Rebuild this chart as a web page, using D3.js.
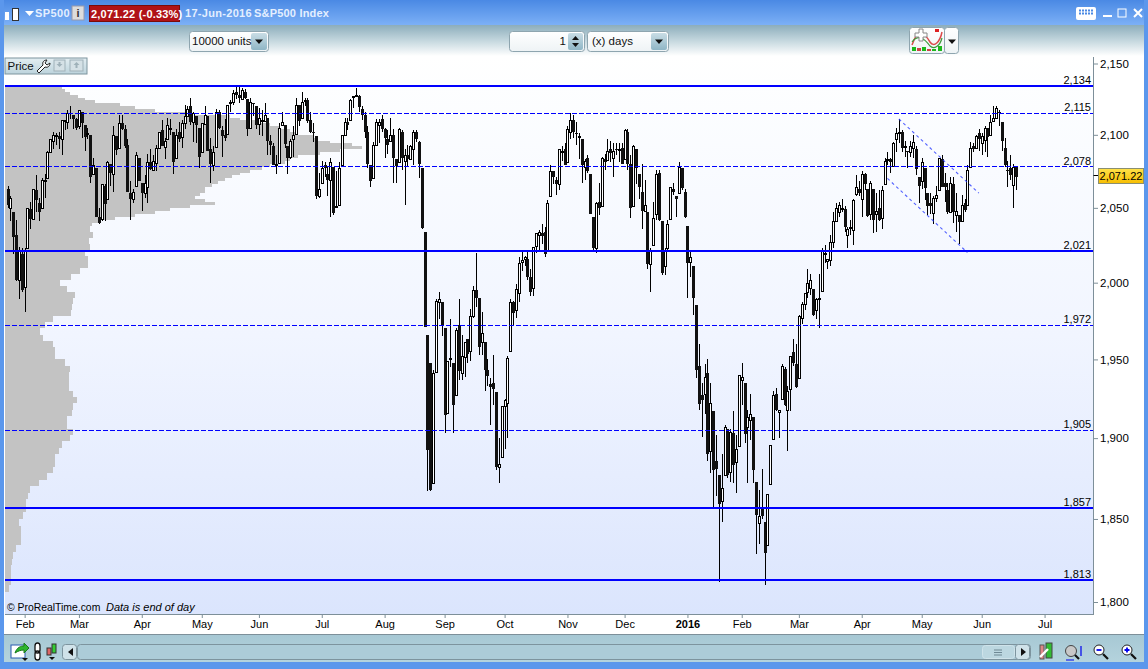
<!DOCTYPE html>
<html><head><meta charset="utf-8">
<script src="https://cdn.jsdelivr.net/npm/d3@7/dist/d3.min.js"></script>
<style>html,body{margin:0;padding:0;background:#fff;overflow:hidden}svg{display:block}text{font-family:"Liberation Sans",Arial,sans-serif}</style>
</head><body><svg id="c" width="1148" height="669"></svg>
<script>
// ---- daily candles, Jan-23-2015 .. Jun-17-2016, one line per month
const opens=[
2063,2050,2047,2032,2002,2019,
1997,2023,2049,2043,2062,2053,2050,2068,2070,2088,2096,2100,2099,2097,2110,2109,2115,2114,2111,
2106,2116,2107,2100,2100,2073,2077,2044,2042,2065,2056,2080,2073,2099,2091,2108,2104,2093,2060,2056,2065,2084,
2067,2060,2064,2081,2076,2081,2091,2103,2092,2097,2105,2102,2084,2102,2098,2108,2113,2120,2109,2113,2105,
2088,2108,2113,2090,2079,2092,2116,2103,2100,2101,2122,2123,2130,2128,2125,2130,2125,2105,2122,2120,
2108,2110,2110,2112,2096,2092,2079,2081,2107,2107,2092,2085,2097,2101,2121,2112,2123,2124,2110,2102,2099,2058,
2067,2079,2073,2069,2078,2050,2052,2079,2100,2109,2110,2126,2127,2127,2118,2114,2102,2079,2070,2093,2107,2111,
2104,2097,2096,2100,2083,2081,2102,2082,2086,2083,2090,2102,2095,2077,2034,1966,1948,1872,1942,1987,1987,
1970,1916,1951,1948,1927,1972,1941,1951,1963,1955,1978,1995,1990,1961,1961,1943,1934,1935,1929,1882,1888,
1920,1922,1955,1987,1982,1993,2014,2016,2016,2004,1997,2024,2032,2033,2034,2021,2058,2075,2069,2066,2089,2090,
2081,2102,2110,2101,2098,2097,2078,2084,2073,2044,2023,2054,2051,2083,2083,2090,2084,2090,2089,2091,
2083,2102,2080,2051,2090,2073,2061,2048,2047,2013,2025,2046,2074,2041,2011,2023,2042,2063,2058,2060,2077,2061,
2038,2014,2011,1985,1946,1927,1928,1941,1892,1917,1886,1877,1861,1877,1906,1879,1903,1885,1895,
1937,1935,1907,1911,1913,1873,1848,1857,1848,1834,1872,1899,1928,1917,1925,1944,1918,1931,1955,1947,
1938,1977,1986,1994,1997,1996,1982,1990,1995,2020,2015,2015,2027,2041,2047,2049,2049,2032,2037,2035,2059,2063,
2056,2073,2063,2046,2063,2046,2050,2043,2066,2083,2083,2078,2097,2101,2102,2091,2089,2088,2091,2090,2071,
2068,2077,2060,2053,2047,2057,2062,2083,2067,2062,2047,2066,2045,2045,2041,2053,2052,2078,2092,2091,2101,
2094,2097,2105,2100,2110,2112,2116,2109,2091,2076,2077,2066,2078];
const highs=[
2065,2058,2047,2042,2024,2023,
2023,2050,2054,2063,2072,2057,2070,2073,2089,2097,2102,2101,2102,2110,2110,2117,2120,2114,2112,
2117,2116,2107,2105,2100,2084,2077,2050,2066,2066,2082,2080,2106,2099,2114,2114,2107,2097,2068,2063,2088,2084,
2067,2072,2087,2090,2086,2093,2102,2110,2098,2112,2111,2102,2104,2109,2110,2121,2120,2126,2116,2113,2105,
2108,2120,2113,2098,2092,2118,2117,2106,2111,2121,2124,2131,2134,2134,2133,2132,2125,2126,2122,2120,
2119,2117,2122,2112,2100,2094,2086,2108,2116,2107,2092,2097,2106,2126,2121,2130,2126,2126,2116,2108,2099,2074,
2082,2081,2078,2084,2078,2075,2081,2100,2112,2112,2125,2127,2133,2128,2120,2116,2106,2079,2095,2111,2111,2114,
2105,2103,2112,2104,2083,2105,2103,2090,2093,2093,2103,2103,2096,2077,2034,1966,1948,1943,1989,1994,1986,
1970,1948,1976,1948,1970,1989,1966,1961,1963,1983,1998,2020,1990,1981,1961,1950,1938,1953,1929,1900,1920,
1925,1952,1989,1988,1999,2017,2021,2018,2022,2009,2024,2033,2035,2039,2037,2055,2079,2075,2071,2090,2092,2094,
2106,2115,2114,2109,2101,2097,2083,2086,2073,2044,2054,2067,2085,2087,2097,2096,2094,2094,2094,2094,
2104,2104,2086,2093,2090,2073,2080,2069,2047,2023,2054,2076,2076,2041,2023,2042,2064,2067,2058,2081,2077,2063,
2038,2022,2011,1985,1960,1935,1947,1950,1935,1917,1902,1877,1890,1908,1906,1906,1917,1902,1940,
1948,1935,1918,1928,1913,1873,1868,1881,1848,1865,1896,1930,1932,1918,1947,1945,1933,1952,1963,1960,
1979,1987,1993,2009,2006,1996,1990,2006,2023,2025,2016,2032,2047,2053,2054,2056,2051,2037,2042,2056,2072,2068,
2075,2074,2063,2068,2063,2060,2062,2065,2084,2088,2084,2095,2105,2111,2103,2096,2089,2096,2100,2092,2071,
2084,2077,2060,2060,2058,2065,2084,2086,2074,2067,2071,2071,2060,2045,2059,2056,2079,2095,2094,2100,2104,
2101,2106,2105,2114,2120,2120,2117,2109,2098,2082,2086,2080,2078];
const lows=[
2050,2041,2019,2001,1989,1994,
1981,2023,2036,2043,2047,2041,2050,2057,2070,2088,2090,2093,2090,2086,2103,2104,2111,2104,2103,
2104,2098,2089,2097,2067,2072,2044,2039,2041,2041,2056,2065,2061,2086,2091,2103,2091,2061,2042,2053,2065,2068,
2048,2057,2053,2076,2076,2075,2091,2092,2083,2097,2100,2073,2084,2095,2091,2104,2113,2107,2095,2094,2077,
2088,2108,2089,2067,2075,2092,2104,2085,2096,2101,2116,2121,2125,2122,2125,2125,2099,2105,2113,2104,
2100,2099,2110,2086,2086,2079,2073,2081,2107,2091,2073,2083,2085,2101,2106,2112,2120,2108,2101,2095,2056,2057,
2067,2071,2058,2044,2045,2050,2052,2079,2100,2103,2110,2119,2127,2116,2110,2098,2077,2064,2070,2094,2094,2102,
2084,2087,2096,2067,2067,2081,2076,2052,2078,2083,2079,2095,2070,2036,1971,1867,1867,1872,1942,1976,1965,
1903,1916,1945,1903,1927,1937,1937,1939,1948,1949,1977,1984,1953,1953,1930,1933,1908,1921,1880,1872,1888,
1893,1900,1955,1972,1977,1987,2008,2011,2002,1991,1991,2020,2022,2026,2017,2021,2058,2066,2059,2062,2082,2079,
2081,2097,2098,2093,2083,2067,2069,2074,2046,2022,2020,2045,2051,2076,2083,2081,2071,2086,2081,2080,
2083,2076,2043,2051,2066,2056,2036,2048,2009,1994,2025,2042,2041,2005,2005,2021,2042,2059,2044,2060,2062,2043,
1990,2004,1979,1938,1918,1901,1915,1886,1878,1857,1864,1812,1848,1877,1875,1873,1872,1866,1895,
1921,1897,1872,1899,1872,1829,1835,1850,1810,1834,1872,1899,1917,1900,1925,1920,1892,1917,1946,1932,
1938,1973,1982,1990,1992,1978,1976,1970,1995,2013,2009,2011,2023,2041,2044,2047,2034,2023,2032,2025,2058,2058,
2044,2062,2044,2042,2033,2034,2041,2036,2066,2079,2074,2078,2088,2094,2088,2085,2077,2085,2084,2072,2053,
2063,2055,2045,2046,2039,2054,2062,2064,2054,2046,2047,2040,2034,2026,2041,2047,2052,2078,2088,2090,2089,
2086,2088,2085,2100,2110,2112,2106,2089,2078,2064,2069,2050,2062];
const closes=[
2052,2057,2030,2002,2021,1995,
2021,2050,2042,2063,2055,2047,2069,2069,2088,2097,2100,2100,2097,2110,2110,2115,2114,2111,2105,
2117,2108,2099,2101,2071,2079,2044,2040,2066,2053,2081,2074,2100,2089,2108,2104,2092,2061,2056,2061,2086,2068,
2060,2067,2081,2076,2082,2091,2102,2092,2096,2107,2105,2081,2100,2097,2108,2113,2118,2109,2115,2107,2085,
2108,2114,2089,2080,2088,2116,2105,2099,2098,2121,2123,2129,2128,2126,2131,2126,2104,2123,2121,2107,
2112,2110,2114,2096,2093,2079,2080,2105,2109,2094,2084,2096,2100,2121,2110,2123,2124,2109,2102,2101,2058,2063,
2077,2077,2069,2081,2047,2051,2077,2100,2109,2107,2124,2127,2128,2119,2114,2102,2080,2068,2093,2109,2109,2104,
2098,2093,2100,2084,2078,2104,2084,2086,2083,2092,2102,2097,2080,2036,1971,1893,1868,1941,1988,1989,1972,
1914,1949,1951,1921,1969,1942,1952,1961,1953,1978,1995,1990,1958,1967,1943,1939,1932,1931,1882,1884,1920,
1924,1951,1987,1980,1996,2013,2015,2017,2004,1994,2024,2033,2034,2031,2019,2053,2075,2071,2066,2090,2089,2079,
2104,2110,2102,2100,2099,2079,2082,2075,2046,2023,2053,2050,2084,2081,2089,2087,2089,2089,2090,2080,
2103,2080,2050,2092,2077,2064,2048,2052,2012,2022,2043,2073,2042,2006,2021,2039,2064,2061,2056,2078,2063,2044,
2013,2017,1990,1943,1922,1924,1939,1890,1922,1880,1881,1859,1869,1907,1877,1904,1883,1893,1940,
1939,1903,1913,1915,1880,1853,1852,1852,1829,1865,1896,1927,1918,1918,1946,1921,1930,1952,1948,1932,
1978,1986,1993,2000,2002,1979,1989,1990,2022,2020,2016,2027,2041,2050,2052,2050,2037,2036,2037,2055,2064,2060,
2073,2066,2045,2067,2042,2048,2042,2062,2082,2083,2081,2094,2101,2102,2091,2092,2088,2092,2095,2076,2065,
2081,2063,2051,2051,2057,2059,2084,2064,2064,2047,2067,2047,2048,2040,2052,2048,2076,2091,2090,2099,2097,
2099,2105,2099,2109,2112,2119,2115,2096,2079,2075,2072,2078,2071];

// ---- volume-by-price profile: bucket top price and traded volume
const profilePrices=[2134,2132,2130,2128,2126,2124,2122,2120,2118,2116,2114,2112,2110,2108,2106,2104,2102,2100,2098,2096,2094,2092,2090,2088,2086,2084,2082,2080,2078,2076,2074,2072,2070,2068,2066,2064,2062,2060,2058,2056,2054,2052,2050,2048,2046,2044,2042,2040,2038,2034,2030,2026,2022,2018,2014,2010,2006,2002,1998,1994,1990,1986,1982,1978,1974,1970,1966,1962,1958,1954,1950,1946,1942,1938,1934,1930,1926,1922,1918,1914,1910,1906,1902,1898,1894,1890,1886,1882,1878,1874,1870,1866,1862,1858,1854,1850,1846,1842,1838,1834,1830,1826,1822,1818,1814,1810,1806];
const profileVolumes=[57,60,65,73,80,90,115,130,150,185,225,235,253,265,275,285,293,308,313,325,347,357,335,315,293,285,280,265,257,245,235,227,220,213,207,200,200,195,190,200,210,185,165,150,130,110,95,87,85,88,84,85,80,83,83,75,66,55,62,70,68,67,66,48,40,35,38,48,50,50,60,65,64,64,64,68,72,68,67,62,62,68,65,57,54,50,50,48,42,34,25,23,21,21,18,14,16,16,16,11,8,7,6,6,6,4,0];

// ---- horizontal levels and trend channel
const solidLevels=[2134,2021,1857,1813];
const dashedLevels=[2115,2078,1972,1905];
const channelStart=[312,308], channelStartPrice=[2111,2070];
const channelEnd=[340,336],  channelEndPrice=[2060,2020];

// ---- axes
const priceTicks=[2150,2100,2050,2000,1950,1900,1850,1800];
const monthLabels=["Feb","Mar","Apr","May","Jun","Jul","Aug","Sep","Oct","Nov","Dec","2016","Feb","Mar","Apr","May","Jun","Jul"];
const monthIndex=[6,25,47,68,88,110,132,153,174,196,216,238,257,277,299,320,341,363];
const lastPrice=2071.22;

const svg=d3.select("#c");
const defs=svg.append("defs");
function grad(id,stops){const g=defs.append("linearGradient").attr("id",id).attr("x1",0).attr("y1",0).attr("x2",0).attr("y2",1);
 stops.forEach(s=>g.append("stop").attr("offset",s[0]).attr("stop-color",s[1]));}
grad("plotBg",[[0,"#ffffff"],[.05,"#fdfeff"],[.5,"#f1f5ff"],[1,"#dbe5fd"]]);
grad("titleBg",[[0,"#4a89e4"],[1,"#7cb0f6"]]);
grad("toolBg",[[0,"#8cadbb"],[.5,"#c4d7de"],[1,"#ffffff"]]);
grad("barBg",[[0,"#a7c8d4"],[1,"#b4d3dd"]]);
grad("btnBg",[[0,"#ffffff"],[1,"#eef3f5"]]);
grad("arrowBg",[[0,"#c9dde5"],[1,"#8fb6c6"]]);
grad("goldBg",[[0,"#ffe24a"],[1,"#f7bd00"]]);
grad("tabBg",[[0,"#e4eef2"],[1,"#bcd3dc"]]);

const R=(x,y,w,h,fill,stroke,rx)=>svg.append("rect").attr("x",x).attr("y",y).attr("width",w).attr("height",h).attr("fill",fill).attr("stroke",stroke||"none").attr("rx",rx||0);
const T=(x,y,s,o={})=>svg.append("text").attr("x",x).attr("y",y).text(s).attr("font-size",o.size||11).attr("fill",o.fill||"#000")
  .attr("font-weight",o.weight||"normal").attr("font-style",o.style||"normal").attr("text-anchor",o.anchor||"start").attr("letter-spacing",o.ls||0);
const P=(d,fill,stroke,sw)=>svg.append("path").attr("d",d).attr("fill",fill||"none").attr("stroke",stroke||"none").attr("stroke-width",sw||1);

// window chrome
R(0,0,1148,669,"#ffffff");
R(0,0,1148,25,"url(#titleBg)");
R(0,25,1148,31,"url(#toolBg)");
R(0,0,4,669,"#5b97ec");
R(1144,0,4,669,"#5b97ec");
R(4,635,1140,27,"url(#barBg)");
R(0,662,1148,7,"#5b97ec");

// plot scales
const pLeft=5,pRight=1093,pTop=57,pBottom=614;
const y=d3.scaleLog().domain([1800,2150]).range([602,63.5]);
const x=d3.scaleLinear().domain([0,353]).range([7.5,1016]);
const vol=d3.scaleLinear().domain([0,357]).range([pLeft,pLeft+357]);

R(pLeft,pTop,pRight-pLeft,pBottom-pTop,"url(#plotBg)");

// volume profile
svg.append("g").attr("shape-rendering","crispEdges").selectAll("rect").data(profilePrices.slice(0,-1)).join("rect")
 .attr("x",pLeft).attr("width",(d,i)=>vol(profileVolumes[i])-pLeft)
 .attr("y",d=>Math.round(y(d))).attr("height",(d,i)=>Math.round(y(profilePrices[i+1]))-Math.round(y(d)))
 .attr("fill","#c3c3c3");

// candles
const idx=d3.range(closes.length);
const cx=i=>Math.round(x(i))+.5;
const gc=svg.append("g").attr("shape-rendering","crispEdges");
gc.selectAll("line").data(idx).join("line").attr("x1",cx).attr("x2",cx)
 .attr("y1",i=>y(highs[i])).attr("y2",i=>y(lows[i])).attr("stroke","#000").attr("stroke-width",1);
gc.selectAll("rect").data(idx).join("rect")
 .attr("x",i=>closes[i]>=opens[i]?cx(i)-1:cx(i)-1.5)
 .attr("width",i=>closes[i]>=opens[i]?2:3)
 .attr("y",i=>Math.round(y(Math.max(opens[i],closes[i]))))
 .attr("height",i=>Math.max(1,Math.round(Math.abs(y(opens[i])-y(closes[i])))))
 .attr("fill",i=>closes[i]>=opens[i]?"#fff":"#111")
 .attr("stroke",i=>closes[i]>=opens[i]?"#000":"none").attr("stroke-width",1);

// levels
const gl=svg.append("g").attr("shape-rendering","crispEdges");
gl.selectAll(".s").data(solidLevels).join("line").attr("class","s").attr("x1",pLeft).attr("x2",pRight)
 .attr("y1",d=>Math.round(y(d))).attr("y2",d=>Math.round(y(d))).attr("stroke","#0000ff").attr("stroke-width",2);
gl.selectAll(".d").data(dashedLevels).join("line").attr("class","d").attr("x1",pLeft).attr("x2",pRight)
 .attr("y1",d=>Math.floor(y(d))+.5).attr("y2",d=>Math.floor(y(d))+.5).attr("stroke","#0000ff").attr("stroke-width",1).attr("stroke-dasharray","5,2");
svg.append("g").selectAll("text").data(solidLevels.concat(dashedLevels)).join("text")
 .attr("x",1091).attr("y",d=>Math.round(y(d))-2).attr("text-anchor","end").attr("font-size",11).attr("fill","#000").text(d3.format(","));

// trend channel
svg.append("g").selectAll("line").data([0,1]).join("line")
 .attr("x1",i=>x(channelStart[i])).attr("y1",i=>y(channelStartPrice[i]))
 .attr("x2",i=>x(channelEnd[i])).attr("y2",i=>y(channelEndPrice[i]))
 .attr("stroke","#2a3cff").attr("stroke-width",1.1).attr("stroke-dasharray","3,3").attr("opacity",.8);

// footer text in plot
T(7,611,"© ProRealTime.com",{size:10.4});
T(106,611,"Data is end of day",{size:11,style:"italic"});

// axes
const gy=svg.append("g").attr("transform",`translate(${pRight},0)`)
 .call(d3.axisRight(y).tickValues(priceTicks).tickFormat(d3.format(",")).tickSize(5).tickPadding(2));
gy.select(".domain").attr("d",`M0.5,${pTop}V${pBottom}`).attr("stroke","#7d8f99").attr("stroke-width",1);
gy.selectAll("line").attr("stroke","#7d8f99");
gy.selectAll("text").attr("font-size",11.5).attr("font-family","Liberation Sans").attr("fill","#000");
const gx=svg.append("g").attr("transform",`translate(0,${pBottom})`)
 .call(d3.axisBottom(x).tickValues(monthIndex).tickFormat((d,i)=>monthLabels[i]).tickSize(4).tickPadding(2));
gx.select(".domain").attr("d",`M${pLeft},0.5H${pRight+1}`).attr("stroke","#7d8f99");
gx.selectAll("line").attr("stroke","#7d8f99");
gx.selectAll("text").attr("font-size",11).attr("font-family","Liberation Sans").attr("fill","#000")
 .attr("font-weight",(d,i)=>monthLabels[i]==="2016"?"bold":"normal");
R(4,634,1140,1,"#7d8f99");

// last price marker
R(1093.5,175,5,1,"#000");
R(1098.5,168.5,45,15,"url(#goldBg)","#8a8f70");
T(1121,180,d3.format(",.2f")(lastPrice),{size:11,anchor:"middle"});

// title bar
R(5,12,4,8,"#fff"); R(12.5,8.5,6,12,"#fff","#333");
P("M25 11h9l-4.5 5z","#fff");
T(35,17,"SP500",{size:11,weight:"bold",fill:"#e4efff",ls:.4});
R(72,6,12,14,"#ddd","#99a");T(78,17,"i",{size:11,weight:"bold",anchor:"middle",fill:"#333"});
R(89.5,5.5,90,16,"#b01217","#7a0b0b");
T(91,17.5,"2,071.22 (-0.33%)",{size:11,weight:"bold",fill:"#fff",ls:.2});
T(185,17,"17-Jun-2016",{size:11,weight:"bold",fill:"#e4efff",ls:.3});
T(254,17,"S&P500 Index",{size:11,weight:"bold",fill:"#e4efff",ls:.2});
// window buttons
R(1076,7,20,13,"#fff",null,2);
for(let i=0;i<2;i++)for(let j=0;j<5;j++)R(1079+j*3,9.5+i*3,2,2,"#4a89e4");
R(1103,15,9,2,"#fff");
R(1118,9,8,8,"none","#fff");
P("M1134 9l8 8M1142 9l-8 8",null,"#fff",2);

// toolbar controls
function dropdown(x0,w,label,anchorX,arrow){
 R(x0+.5,31.5,w,20,"url(#btnBg)","#8ea5af",3);
 if(arrow){R(x0+w-17,33,16,17,"url(#arrowBg)",null,2);P(`M${x0+w-13} 39.5h8l-4 4.5z`,"#111");}
 T(anchorX,45,label,{size:11.5,fill:"#111"});
}
dropdown(189,79,"10000 units",192,true);
R(509.5,31.5,75,20,"url(#btnBg)","#8ea5af",3);
T(566,45,"1",{size:11.5,anchor:"end",fill:"#111"});
R(568,33,15,17,"url(#arrowBg)",null,2);P("M572 40l3.5-4 3.5 4zM572 43l3.5 4 3.5-4z","#111");
dropdown(587,81,"(x) days",592,true);
// indicator button
R(909.5,27.5,35,26,"url(#btnBg)","#8ea5af",3);
R(944.5,27.5,14,26,"url(#btnBg)","#8ea5af",3);
P("M948 39.5h8l-4 4.5z","#111");
P("M912 45C918 28 924 32 930 42 934 48 940 42 942 32","none","#dc4a4a",1.5);
P("M912 42C918 34 924 38 930 46 934 50 940 46 942 38","none","#3a9a3a",1.2);
P("M915 33h4v-4h4v4h4v4h-4v4h-4v-4h-4z","#fff","#888");
P("M934 36l3-4h-2v-3h4v3h-2z","#dd2222");
R(912,47,4,4,"#1cb81c");R(917,48,4,3,"#cc4444");R(922,47,4,4,"#1cb81c");R(927,49,4,2,"#cc4444");R(932,49,4,2,"#1cb81c");R(938,46,4,5,"#1cb81c");

// Price tab
R(5,58,82,16,"url(#tabBg)","#7d949e");
T(7.5,70,"Price",{size:11.5,fill:"#111"});
P("M37 71l6-6c-1-3 1-5 4-5l-2 3 2 2 3-2c0 3-2 5-5 4l-6 6z","#fff","#222");
R(54,60,11,11,"#d5e1e6","#9fb1b9");P("M59.5 67l-3-3h2v-2h2v2h2z","#9fb1b9");
R(70,60,13,11,"#d5e1e6","#9fb1b9");P("M76.5 62l3 3h-2v3h-2v-3h-2z","#9fb1b9");

// bottom toolbar
R(11,645,14,13,"#fff","#2a5db0");P("M15 653c2-6 6-7 9-7v-3l5 5-5 5v-3c-3 0-6 1-9 3z","#2db52d","#1a7a1a");
P("M35 646a2.5 3 0 0 1 5 0v4a2.5 3 0 0 1-5 0zM35 654a2.5 3 0 0 1 5 0v3a2.5 3 0 0 1-5 0z","#fff","#111",1.3);
R(47,648,4,7,"#dd6666","#333");R(52,644,4,9,"#33cc33","#333");
P("M49 657h6l-3 3z","#111");P("M22 658h6l-3 3z","#111");
R(62.5,644.5,14,15,"#cfe2e9","#7d949e",3);P("M73 648v8l-5-4z","#111");
R(77.5,644.5,953,15,"#acccd8","#7d949e",3);
R(982.5,645.5,32,13,"#bcd7e0","#cfe3ea",3);P("M994 650h8M994 652.5h8M994 655h8",null,"#5b7480",.8);
R(1015.5,644.5,14,15,"#cfe2e9","#7d949e",3);P("M1021 648v8l5-4z","#111");
R(1040,645,4,14,"#d88","#555");R(1046,643,6,15,"#33bb33","#444");P("M1040 657l8-8",null,"#fff",2.4);
svg.append("circle").attr("cx",1071).attr("cy",651).attr("r",5.5).attr("fill","#c8c8c8").attr("stroke","#444");
P("M1075 655l4 4",null,"#111",2.2);P("M1081 646v10M1066 660h8",null,"#0000ee",1.2);
svg.append("circle").attr("cx",1099).attr("cy",650).attr("r",5).attr("fill","#fff").attr("stroke","#222");P("M1096.5 650h5",null,"#0000ee",1.8);P("M1103 654l5 5",null,"#111",2.2);
svg.append("circle").attr("cx",1127).attr("cy",650).attr("r",5).attr("fill","#fff").attr("stroke","#222");P("M1124.5 650h5M1127 647.5v5",null,"#0000ee",1.8);P("M1131 654l5 5",null,"#111",2.2);
</script></body></html>
